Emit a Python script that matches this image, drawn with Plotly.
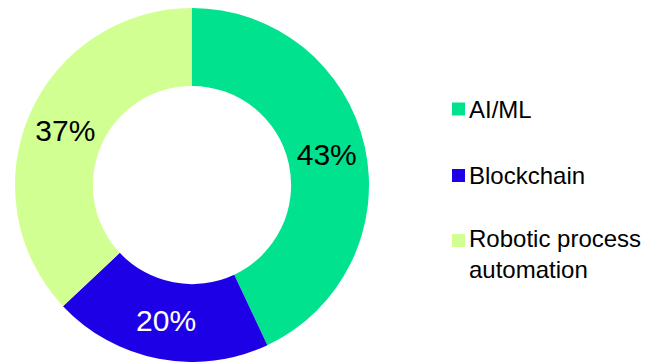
import plotly.graph_objects as go

# Share of adoption by technology
labels = ["AI/ML", "Blockchain", "Robotic process automation"]
legend_text = ["AI/ML", "Blockchain", "Robotic process<br>automation"]
values = [43, 20, 37]
colors = ["#00E28E", "#1E00E6", "#D2FF92"]
text_colors = ["#000000", "#FFFFFF", "#000000"]

W, H = 647, 362
FONT = "Liberation Sans, Arial, sans-serif"

fig = go.Figure()
fig.add_trace(go.Pie(
    labels=labels,
    values=values,
    hole=0.56,
    sort=False,
    direction="clockwise",
    rotation=0,
    marker=dict(colors=colors, line=dict(width=0)),
    textinfo="percent",
    texttemplate="%{percent:.0%}",
    textposition="inside",
    insidetextorientation="horizontal",
    textfont=dict(family=FONT, size=30, color=text_colors),
    domain=dict(x=[15 / W, 369 / W], y=[0, 354 / H]),
    showlegend=False,
))

# Legend drawn as colored squares with labels beside them
legend_y = [109, 175.5, 240.5]  # pixel centres from top
sq = 13
shapes = []
annotations = []
for txt, col, yc in zip(legend_text, colors, legend_y):
    shapes.append(dict(
        type="rect", xref="paper", yref="paper",
        x0=452 / W, x1=(452 + sq) / W,
        y0=1 - (yc + sq / 2) / H, y1=1 - (yc - sq / 2) / H,
        fillcolor=col, line=dict(width=0),
    ))
    n_lines = txt.count("<br>") + 1
    y_mid = yc + (n_lines - 1) * 14
    annotations.append(dict(
        text=txt, xref="paper", yref="paper",
        x=467 / W, y=1 - y_mid / H,
        xanchor="left", yanchor="middle", align="left",
        showarrow=False,
        font=dict(family=FONT, size=24, color="#000000"),
    ))

fig.update_layout(
    width=W, height=H,
    margin=dict(l=0, r=0, t=0, b=0),
    paper_bgcolor="white",
    plot_bgcolor="white",
    shapes=shapes,
    annotations=annotations,
    showlegend=False,
)

fig.write_html("out.html")
